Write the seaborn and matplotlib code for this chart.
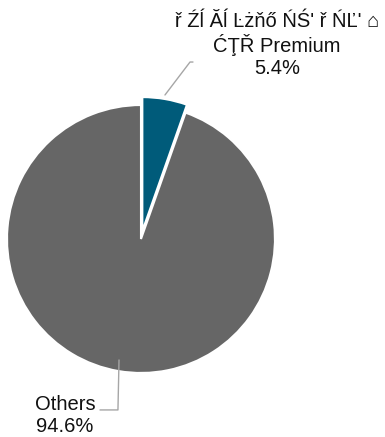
import matplotlib
matplotlib.use("Agg")
import matplotlib.pyplot as plt
import seaborn as sns

sns.set_style("white")
plt.rcParams["font.family"] = ["Liberation Sans", "DejaVu Sans"]

# Share of segment vs. the rest
categories = ["ř Źĺ Ăĺ Ŀżňő ŃŚ' ř ŃĽ' ⌂\nĆŢŘ Premium", "Others"]
shares = [5.4, 94.6]
colors = ["#005B7A", "#666666"]
explode = [0.06, 0.0]

fig = plt.figure(figsize=(3.85, 4.37), dpi=100)
ax = fig.add_axes([0, 0, 1, 1])
ax.pie(shares, colors=colors, explode=explode, startangle=90, counterclock=False,
       radius=1.0, wedgeprops=dict(edgecolor="white", linewidth=1.5))
ax.set_aspect("equal")
ax.set_xlim(-1.052, 1.821)
ax.set_ylim(-1.478, 1.784)
ax.axis("off")

leader = dict(color="#A6A6A6", linewidth=1.0)
# Premium label and its leader
ax.plot([0.179, 0.366, 0.388], [1.075, 1.321, 1.321], **leader)
ax.text(1.015, 1.448, f"{categories[0]}\n{shares[0]:.1f}%", ha="center", va="center",
        multialignment="center", fontsize=14.5, color="#111111", linespacing=1.2)
# Others label and its leader
ax.plot([-0.164, -0.172, -0.306], [-0.903, -1.276, -1.276], **leader)
ax.text(-0.567, -1.321, f"{categories[1]}\n{shares[1]:.1f}%", ha="center", va="center",
        multialignment="center", fontsize=14.5, color="#111111", linespacing=1.2)

fig.savefig("out.png", dpi=100)
